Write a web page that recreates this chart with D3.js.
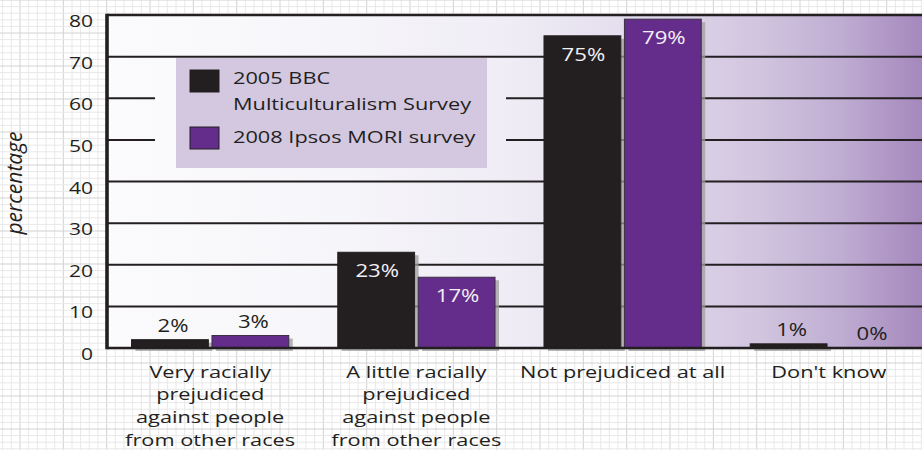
<!DOCTYPE html>
<html>
<head>
<meta charset="utf-8">
<script src="https://cdn.jsdelivr.net/npm/d3@7"></script>
<style>
  html, body { margin: 0; padding: 0; background: #fff; }
  svg { display: block; }
  text { font-family: "Open Sans", sans-serif; fill: #231f20; }
</style>
</head>
<body>
<svg id="chart" width="922" height="450"></svg>
<script>
// ---------- data ----------
const categories = ["Very racially prejudiced against people from other races",
                    "A little racially prejudiced against people from other races",
                    "Not prejudiced at all",
                    "Don't know"];
const categoryLines = [["Very racially", "prejudiced", "against people", "from other races"],
                       ["A little racially", "prejudiced", "against people", "from other races"],
                       ["Not prejudiced at all"],
                       ["Don't know"]];
const seriesNames = ["2005 BBC Multiculturalism Survey", "2008 Ipsos MORI survey"];
const seriesLegendLines = [["2005 BBC", "Multiculturalism Survey"], ["2008 Ipsos MORI survey"]];
const values2005 = [2, 23, 75, 1];
const values2008 = [3, 17, 79, 0];
const yTicks = [0, 10, 20, 30, 40, 50, 60, 70, 80];
const yTitle = "percentage";
const seriesColors = ["#231f20", "#652d8b"];

// ---------- setup ----------
const W = 922, H = 450;
const svg = d3.select("#chart");
const defs = svg.append("defs");

const plotLeft = 107, plotRight = 922, plotTop = 15, plotBottom = 348;

const y = d3.scaleLinear().domain([0, 80]).range([plotBottom, plotTop]);
const x0 = d3.scaleBand().domain(categories).range([plotLeft, 932])
  .paddingInner(0.2375).paddingOuter(0.119);
const x1 = d3.scaleBand().domain(seriesNames).range([0, x0.bandwidth()]).paddingInner(0.045);

const data = categories.map((c, i) => ({
  cat: c,
  vals: [{s: seriesNames[0], v: values2005[i], k: 0}, {s: seriesNames[1], v: values2008[i], k: 1}]
}));

function stretched(sel, tx, ty, sx) {
  return sel.attr("x", 0).attr("y", 0).attr("transform", `translate(${tx},${ty}) scale(${sx},1)`);
}

// ---------- background paper grid ----------
const grid = svg.append("g");
const gx = 8.667, gy = 6.6;
d3.range(20 - gx * 2, W, gx).forEach((v, i) => {
  const major = ((i - 2) % 5 + 5) % 5 === 0;
  grid.append("line").attr("x1", v).attr("x2", v).attr("y1", 0).attr("y2", H)
    .attr("stroke", major ? "#d2d2d2" : "#e8e8e8").attr("stroke-width", 1);
});
d3.range(0, H, gy).forEach((v, i) => {
  const major = i % 5 === 0;
  grid.append("line").attr("y1", v).attr("y2", v).attr("x1", 0).attr("x2", W)
    .attr("stroke", major ? "#d2d2d2" : "#e8e8e8").attr("stroke-width", 1);
});

// ---------- plot background gradient ----------
const grad = defs.append("linearGradient").attr("id", "bgGrad")
  .attr("gradientUnits", "userSpaceOnUse")
  .attr("x1", plotLeft).attr("x2", plotRight).attr("y1", 0).attr("y2", 0);
[[0, "#fbfbfd"], [0.3, "#f6f5f9"], [0.5, "#efecf5"], [0.65, "#e3dced"],
 [0.8, "#d1c5df"], [0.9, "#bfadd2"], [1, "#a588bd"]]
  .forEach(([o, c]) => grad.append("stop").attr("offset", o).attr("stop-color", c));

svg.append("rect").attr("x", plotLeft).attr("y", y(80)).attr("width", plotRight - plotLeft)
  .attr("height", y(0) - y(80)).attr("fill", "url(#bgGrad)");

// ---------- horizontal gridlines ----------
svg.append("g").selectAll("line").data(yTicks.filter(t => t > 0)).join("line")
  .attr("x1", plotLeft).attr("x2", plotRight)
  .attr("y1", d => y(d)).attr("y2", d => y(d))
  .attr("stroke", "#231f20").attr("stroke-width", d => d === 80 ? 2.6 : 2);

// ---------- legend (with background mask) ----------
svg.append("rect").attr("x", 155).attr("y", y(68)).attr("width", 351).attr("height", y(42) - y(68))
  .attr("fill", "url(#bgGrad)");
const lg = svg.append("g");
lg.append("rect").attr("x", 176).attr("y", 58).attr("width", 311).attr("height", 110)
  .attr("fill", "#d4c8e1");
const legendRows = [{sw: 70, base: [84, 110]}, {sw: 127, base: [143]}];
legendRows.forEach((r, i) => {
  lg.append("rect").attr("x", 190).attr("y", r.sw).attr("width", 29).attr("height", 22)
    .attr("fill", seriesColors[i]).attr("stroke", "#231f20").attr("stroke-width", 1);
  seriesLegendLines[i].forEach((ln, j) => {
    stretched(lg.append("text").text(ln).attr("font-size", 16), 233, r.base[j], 1.36);
  });
});

// ---------- bars ----------
const groups = svg.append("g").selectAll("g").data(data).join("g")
  .attr("transform", d => `translate(${x0(d.cat)},0)`);

groups.selectAll("rect.shadow").data(d => d.vals.filter(e => e.v > 0)).join("rect")
  .attr("class", "shadow")
  .attr("x", d => x1(d.s) + 4).attr("y", d => y(d.v) + 3)
  .attr("width", x1.bandwidth()).attr("height", d => y(0) - y(d.v))
  .attr("fill", "#9d9d9d").attr("opacity", 0.75);

groups.selectAll("rect.bar").data(d => d.vals.filter(e => e.v > 0)).join("rect")
  .attr("class", "bar")
  .attr("x", d => x1(d.s)).attr("y", d => y(d.v))
  .attr("width", x1.bandwidth()).attr("height", d => y(0) - y(d.v))
  .attr("fill", d => seriesColors[d.k])
  .attr("stroke", d => d.k === 1 ? "#3a2f45" : "#231f20").attr("stroke-width", 1);

// value labels
groups.each(function(d) {
  const g = d3.select(this);
  d.vals.forEach(e => {
    const inside = e.v > 10;
    const t = g.append("text").text(e.v + "%").attr("font-size", 18)
      .attr("text-anchor", "middle")
      .style("fill", inside ? "#f2eff5" : "#231f20");
    const cx = x1(e.s) + x1.bandwidth() / 2 + (inside ? 1 : 3);
    const cy = inside ? y(e.v) + 25 : y(e.v) - 8;
    stretched(t, cx, cy, 1.23);
  });
});

// ---------- axis frame ----------
svg.append("line").attr("x1", plotLeft).attr("x2", plotRight).attr("y1", y(0)).attr("y2", y(0))
  .attr("stroke", "#231f20").attr("stroke-width", 2.6);
svg.append("line").attr("x1", plotLeft).attr("x2", plotLeft).attr("y1", y(80) - 1.3).attr("y2", y(0) + 1.3)
  .attr("stroke", "#231f20").attr("stroke-width", 3.6);

// y tick labels
yTicks.forEach(t => {
  stretched(svg.append("text").text(t).attr("font-size", 17).attr("text-anchor", "end"), 93, y(t) + 12, 1.24);
});

// y title
svg.append("text").text(yTitle).attr("font-size", 21).attr("font-style", "italic")
  .attr("text-anchor", "middle")
  .attr("transform", `translate(22,183) rotate(-90)`);

// category labels
categoryLines.forEach((lines, i) => {
  const cx = x0(categories[i]) + x0.bandwidth() / 2;
  lines.forEach((ln, j) => {
    stretched(svg.append("text").text(ln).attr("font-size", 16.5).attr("text-anchor", "middle"),
      cx, 377.5 + j * 22.7, 1.32);
  });
});
</script>
</body>
</html>
